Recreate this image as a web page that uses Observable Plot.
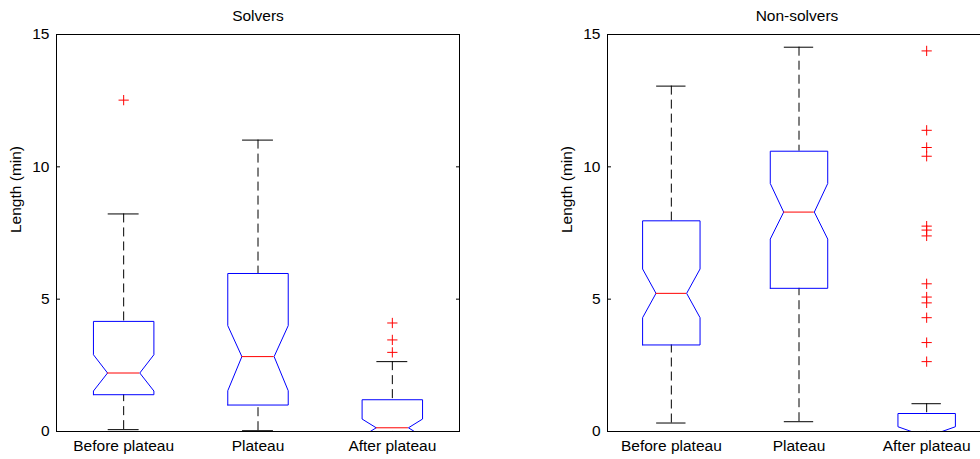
<!DOCTYPE html>
<html>
<head>
<meta charset="utf-8">
<script src="https://cdn.jsdelivr.net/npm/d3@7"></script>
<script src="https://cdn.jsdelivr.net/npm/@observablehq/plot@0.6"></script>
<style>
  html, body { margin: 0; padding: 0; background: #fff; }
  #wrap { position: relative; width: 980px; height: 459px; overflow: hidden; background: #fff; }
  #left, #right { position: absolute; top: 0; }
  #left { left: 0; }
  #right { left: 490px; }
  svg { max-width: none !important; display: block; }
</style>
</head>
<body>
<div id="wrap"><div id="left"></div><div id="right"></div></div>
<script>
// ---- data ----
const categories = ["Before plateau", "Plateau", "After plateau"];
const yTicks = [0, 5, 10, 15];
const yLabel = "Length (min)";

// Solvers
const solversTitle = "Solvers";
const solversQ1 = [1.39, 1.00, 0];
const solversMedian = [2.21, 2.83, 0.14];
const solversQ3 = [4.16, 5.97, 1.20];
const solversNotchLow = [1.53, 1.54, -0.19];
const solversNotchHigh = [2.90, 4.00, 0.47];
const solversWhiskerLow = [0.07, 0.03, 0];
const solversWhiskerHigh = [8.22, 11.01, 2.64];
const solversOutliers = [[12.52], [], [4.10, 3.46, 2.99]];

// Non-solvers
const nonSolversTitle = "Non-solvers";
const nonSolversQ1 = [3.27, 5.41, 0];
const nonSolversMedian = [5.22, 8.29, 0];
const nonSolversQ3 = [7.96, 10.59, 0.68];
const nonSolversNotchLow = [4.30, 7.27, -0.18];
const nonSolversNotchHigh = [6.14, 9.37, 0.18];
const nonSolversWhiskerLow = [0.32, 0.37, 0];
const nonSolversWhiskerHigh = [13.05, 14.52, 1.05];
const nonSolversOutliers = [[], [], [14.38, 11.38, 10.73, 10.40, 7.76, 7.61, 7.39, 5.58, 5.08, 4.86, 4.30, 3.36, 2.64]];

// ---- drawing ----
const FONT = "'Liberation Sans', Arial, Helvetica, sans-serif";
const FS = 15.5;

function panel({title, q1, med, q3, nlo, nhi, wlo, whi, out, width, marginLeft, marginRight, titleDx}) {
  const W = 0.225, N = 0.12, C = 0.115;
  const rows = categories.map((c, i) => ({
    x: i + 1, q1: q1[i], med: med[i], q3: q3[i], nlo: nlo[i], nhi: nhi[i], wlo: wlo[i], whi: whi[i]
  }));
  const verts = rows.flatMap(r => [
    [r.x - W, r.q1], [r.x - W, r.nlo], [r.x - N, r.med], [r.x - W, r.nhi], [r.x - W, r.q3],
    [r.x + W, r.q3], [r.x + W, r.nhi], [r.x + N, r.med], [r.x + W, r.nlo], [r.x + W, r.q1],
    [r.x - W, r.q1]
  ].map(([x, y]) => ({k: r.x, x, y})));
  const outs = out.flatMap((arr, i) => arr.map(v => ({x: i + 1, y: v})));

  return Plot.plot({
    width, height: 459,
    marginTop: 34, marginBottom: 28, marginLeft, marginRight,
    style: {fontFamily: FONT, fontSize: FS + "px", color: "#000", background: "transparent", overflow: "visible"},
    x: {domain: [0.5, 3.5]},
    y: {domain: [0, 15]},
    marks: [
      // whiskers
      Plot.ruleX(rows, {x: "x", y1: "whi", y2: "q3", stroke: "#000", strokeDasharray: "9,5", clip: true}),
      Plot.ruleX(rows, {x: "x", y1: "wlo", y2: "q1", stroke: "#000", strokeDasharray: "9,5", clip: true}),
      // caps
      Plot.ruleY(rows, {y: "whi", x1: d => d.x - C, x2: d => d.x + C, stroke: "#000"}),
      Plot.ruleY(rows, {y: "wlo", x1: d => d.x - C, x2: d => d.x + C, stroke: "#000"}),
      // notched boxes
      Plot.line(verts, {x: "x", y: "y", z: "k", stroke: "#0000ff", strokeWidth: 1, strokeLinejoin: "miter", clip: true}),
      // medians
      Plot.ruleY(rows, {y: "med", x1: d => d.x - N, x2: d => d.x + N, stroke: "#ff0000"}),
      // outliers
      Plot.dot(outs, {x: "x", y: "y", symbol: "plus", r: 3.4, stroke: "#ff0000", strokeWidth: 1}),
      // frame
      Plot.frame({stroke: "#000", strokeWidth: 1}),
      // inward ticks
      Plot.axisY({ticks: yTicks, tickSize: 4, dx: 4, tickFormat: () => "", label: null}),
      Plot.axisY({anchor: "right", ticks: yTicks, tickSize: 4, dx: -4, tickFormat: () => "", label: null}),
      // tick labels
      Plot.axisY({ticks: yTicks, tickSize: 0, tickPadding: 7, label: null, fontSize: FS}),
      Plot.axisX({ticks: [1, 2, 3], tickFormat: i => categories[i - 1], tickSize: 0, tickPadding: 8, label: null, fontSize: FS}),
      // y label and title
      Plot.text([yLabel], {frameAnchor: "left", rotate: -90, dx: -40, lineAnchor: "middle", fontSize: FS, fill: "#000"}),
      Plot.text([title], {frameAnchor: "top", lineAnchor: "middle", dy: -18, dx: titleDx, fontSize: FS, fill: "#000"})
    ]
  });
}

document.getElementById("left").append(panel({
  title: solversTitle, q1: solversQ1, med: solversMedian, q3: solversQ3,
  nlo: solversNotchLow, nhi: solversNotchHigh, wlo: solversWhiskerLow, whi: solversWhiskerHigh,
  out: solversOutliers, width: 490, marginLeft: 56, marginRight: 31, titleDx: 0
}));
document.getElementById("right").append(panel({
  title: nonSolversTitle, q1: nonSolversQ1, med: nonSolversMedian, q3: nonSolversQ3,
  nlo: nonSolversNotchLow, nhi: nonSolversNotchHigh, wlo: nonSolversWhiskerLow, whi: nonSolversWhiskerHigh,
  out: nonSolversOutliers, width: 500, marginLeft: 117, marginRight: 0, titleDx: -2
}));
</script>
</body>
</html>
